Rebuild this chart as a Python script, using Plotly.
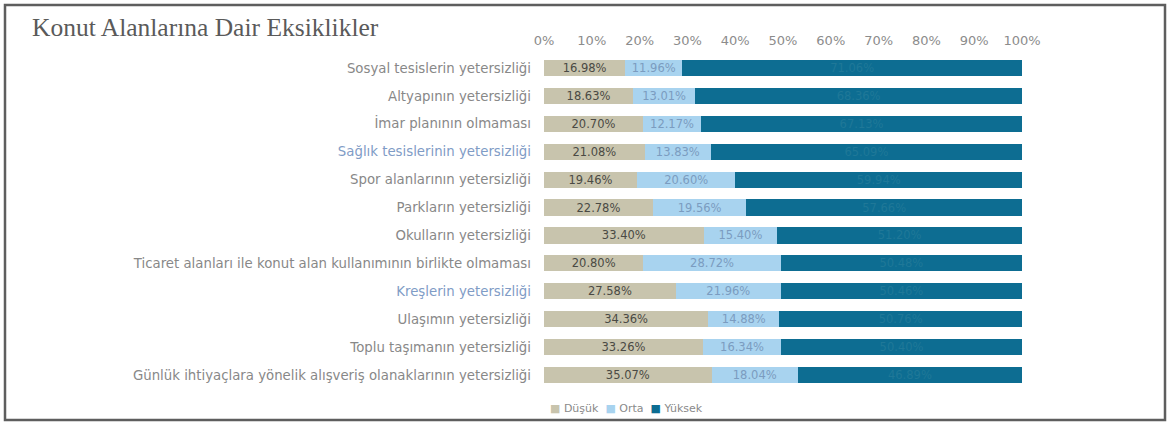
import plotly.graph_objects as go

W, H = 1172, 435

categories = [
    "Sosyal tesislerin yetersizliği",
    "Altyapının yetersizliği",
    "İmar planının olmaması",
    "Sağlık tesislerinin yetersizliği",
    "Spor alanlarının yetersizliği",
    "Parkların yetersizliği",
    "Okulların yetersizliği",
    "Ticaret alanları ile konut alan kullanımının birlikte olmaması",
    "Kreşlerin yetersizliği",
    "Ulaşımın yetersizliği",
    "Toplu taşımanın yetersizliği",
    "Günlük ihtiyaçlara yönelik alışveriş olanaklarının yetersizliği",
]
dusuk = [16.98, 18.63, 20.70, 21.08, 19.46, 22.78, 33.40, 20.80, 27.58, 34.36, 33.26, 35.07]
orta = [11.96, 13.01, 12.17, 13.83, 20.60, 19.56, 15.40, 28.72, 21.96, 14.88, 16.34, 18.04]
yuksek = [71.06, 68.36, 67.13, 65.09, 59.94, 57.66, 51.20, 50.48, 50.46, 50.76, 50.40, 46.89]
x_ticks = list(range(0, 101, 10))
x_ticktext = [f"{v}%" for v in x_ticks]

SANS = "DejaVu Sans, Verdana, sans-serif"

# labels printed in a bluish tone
highlight = {"Sağlık tesislerinin yetersizliği", "Kreşlerin yetersizliği"}
y_ticktext = [
    f"<span style='color:#7f9cc6'>{c}</span>" if c in highlight else c
    for c in categories
]

series = [
    ("Düşük", dusuk, "#c8c4ad", "#4a4a44"),
    ("Orta", orta, "#a8d3ef", "#7b9cc0"),
    ("Yüksek", yuksek, "#0d6d92", "#1f7898"),
]

fig = go.Figure()
for name, vals, color, tcolor in series:
    fig.add_trace(go.Bar(
        name=name,
        y=categories,
        x=vals,
        orientation="h",
        marker=dict(color=color, line=dict(width=0)),
        text=[f"{v:.2f}%" for v in vals],
        textposition="inside",
        insidetextanchor="middle",
        textangle=0,
        constraintext="none",
        textfont=dict(family=SANS, size=11.5, color=tcolor),
        hoverinfo="skip",
        showlegend=False,
    ))

# compact legend row under the bars
legend_text = "&nbsp;&nbsp;".join(
    f"<span style='color:{color}'>■</span> {name}" for name, _, color, _ in series
)

x0, x1 = 544, 1022
y_top, y_bot = 54, 389

fig.update_layout(
    template="none",
    width=W, height=H,
    margin=dict(l=0, r=0, t=0, b=0),
    paper_bgcolor="white",
    plot_bgcolor="white",
    barmode="stack",
    bargap=0.42,
    showlegend=False,
    xaxis=dict(
        domain=[x0 / W, x1 / W],
        range=[0, 100],
        side="top",
        tickvals=x_ticks,
        ticktext=x_ticktext,
        showgrid=False,
        zeroline=False,
        showline=False,
        ticks="",
        ticklabelstandoff=5,
        tickfont=dict(family=SANS, size=13, color="#8c8c8c"),
        automargin=False,
        fixedrange=True,
    ),
    yaxis=dict(
        domain=[1 - y_bot / H, 1 - y_top / H],
        autorange="reversed",
        tickvals=categories,
        ticktext=y_ticktext,
        showgrid=False,
        zeroline=False,
        showline=False,
        ticks="",
        ticklabelstandoff=12,
        tickfont=dict(family=SANS, size=13.3, color="#888888"),
        automargin=False,
        fixedrange=True,
    ),
    annotations=[
        dict(
            text="Konut Alanlarına Dair Eksiklikler",
            xref="paper", yref="paper",
            x=30 / W, y=1 - 27 / H,
            xanchor="left", yanchor="middle",
            showarrow=False,
            font=dict(family="Liberation Serif, Times New Roman, serif", size=25.5, color="#5a5a5a"),
        ),
        dict(
            text=legend_text,
            xref="paper", yref="paper",
            x=626 / W, y=1 - 408 / H,
            xanchor="center", yanchor="middle",
            showarrow=False,
            font=dict(family=SANS, size=11, color="#8a8a8a"),
        ),
    ],
    shapes=[
        dict(
            type="rect", xref="paper", yref="paper",
            x0=5 / W, x1=1165 / W, y0=1 - 420 / H, y1=1 - 5 / H,
            line=dict(color="#5e5e5e", width=2.5),
            fillcolor="rgba(0,0,0,0)",
            layer="above",
        )
    ],
)

fig.write_html("out.html")
